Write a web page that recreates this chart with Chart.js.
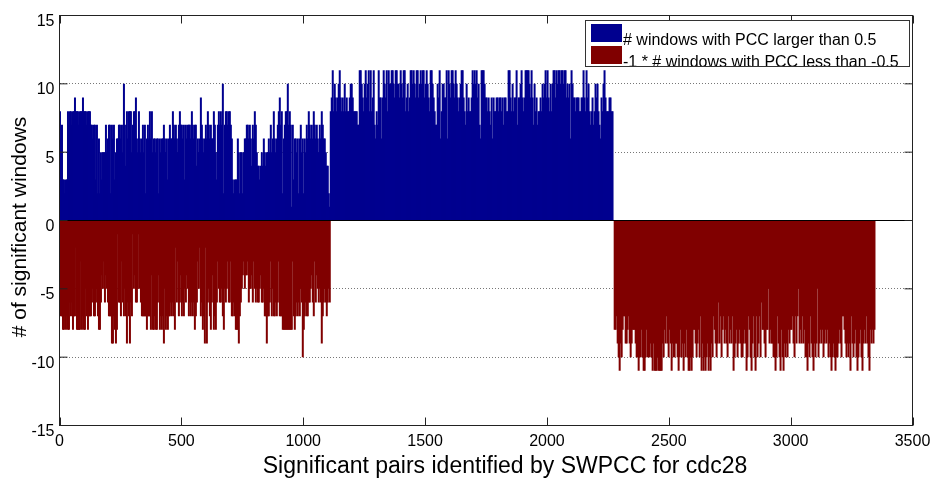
<!DOCTYPE html>
<html lang="en">
<head>
<meta charset="UTF-8" />
<title>Significant windows per pair - cdc28</title>
<script src="https://cdn.jsdelivr.net/npm/chart.js@4"></script>
<style>
  * { margin: 0; padding: 0; box-sizing: border-box; }
  body { background: #fff; width: 930px; height: 478px; overflow: hidden; }
</style>
</head>
<body>
<canvas id="chart" width="930" height="478"></canvas>
<script>
// one bar per ~4.1 consecutive pairs (one pixel column of the original figure)
const PAIRS_PER_BAR = 4.1;
const seg1Start = 2;     // pairs 1..1109
const seg2Start = 1113;  // pairs 1110..2272
const seg3Start = 2278;  // pairs 2273..3343

const xTicks = [0, 500, 1000, 1500, 2000, 2500, 3000, 3500];
const yTicks = [-15, -10, -5, 0, 5, 10, 15];
const xTitle = 'Significant pairs identified by SWPCC for cdc28';
const yTitle = '# of significant windows';

// # windows with PCC > 0.5, first block
const blue1 = [
  8,6,7,3,3,2,3,3,8,7, 8,8,7,8,8,9,8,8,8,7, 8,8,8,9,8,8,8,7,8,8,
  8,7,7,6,7,7,3,7,2,6, 2,5,3,5,5,5,7,5,6,7, 7,2,7,6,7,3,5,6,6,7,
  7,6,7,5,10,7,4,8,6,8, 8,8,5,7,8,8,9,6,5,8, 6,5,6,7,5,7,2,6,7,6,
  8,6,8,5,6,6,5,6,6,2, 6,5,6,6,7,6,5,6,3,6, 7,6,6,8,7,6,7,6,5,7,
  8,7,7,6,7,3,7,6,7,7, 7,6,8,7,6,7,7,
  4,6,5,6,9,7,6,5,6,7, 6,8,7,6,7,6,6,8,7,5, 3,7,8,7,8,7,10,2,7,8,
  8,7,8,8,7,6,3,2,3,3, 3,6,5,2,5,5,2,5,6,6, 7,7,6,7,6,4,7,6,8,7,
  5,4,4,3,4,5,4,6,5,4, 5,5,6,5,7,5,6,8,6,5, 6,7,8,9,7,8,2,6,7,8,
  8,10,7,8,7,1,7,3,6,6, 5,6,2,6,7,5,6,2,6,5, 7,6,8,7,6,7,6,8,7,6,
  7,6,5,7,6,8,7,6,6,5,4,4,2,1
];

// # windows with PCC > 0.5, second block
const blue2 = [
  8,9,11,8,10,9,8,9,10,11, 9,8,9,8,10,8,9,8,8,9, 10,10,9,8,8,8,8,7,7,11,
  11,10,9,8,10,11,9,10,11,8, 11,8,9,11,7,6,8,7,11,9, 9,6,9,11,10,9,11,8,11,10,
  10,11,11,10,9,11,11,10,10,9, 11,10,9,11,11,8,9,10,8,9, 11,11,10,11,10,9,11,11,9,10,
  11,10,11,11,9,10,11,10,9,8, 11,11,10,9,8,7,7,10,9,11, 6,8,10,10,9,9,11,6,11,10,
  9,11,11,10,9,11,10,9,8,9, 10,11,11,9,8,7,10,8,9,8,8,9,
  11,10,11,10,11,9,10,7,6,11, 11,11,10,9,9,8,9,8,7,9, 6,9,8,8,9,9,8,9,9,8,
  9,7,9,9,8,8,11,11,9,8, 10,8,9,9,11,7,9,9,10,11, 9,8,9,11,11,11,11,10,9,11,
  9,7,10,8,9,7,8,8,9,8, 10,9,10,11,9,11,9,8,10,8, 10,11,11,9,11,10,11,11,10,11,
  11,10,11,11,9,10,9,10,6,11, 10,9,9,8,9,9,9,8,8,9, 9,11,9,8,11,9,10,8,7,8,
  9,7,8,10,9,10,8,7,6,9, 8,10,11,9,8,8,8,9,9,8,8
];

// -1 * # windows with PCC < -0.5, first block
const red1 = [
  -6,-7,-7,-8,-8,-7,-8,-7,-8,-8, -6,-7,-6,-8,-7,-7,-2,-8,-8,-8, -8,-3,-8,-7,-8,-8,-5,-7,-8,-7,
  -7,-7,-6,-5,-7,-7,-6,-5,-7,-8, -8,-6,-4,-5,-3,-6,-4,-5,-6,-7, -7,-7,-9,-9,-7,-8,-9,-8,-1,-6,
  -6,-7,-3,-6,-7,-5,-7,-9,-6,-7, -9,-6,-7,-1,-5,-4,-6,-6,-5,-1, -5,-6,-7,-7,-7,-7,-7,-8,-7,-7,
  -7,-8,-4,-8,-8,-7,-8,-8,-6,-4, -8,-7,-8,-7,-9,-5,-8,-7,-8,-7, -7,-6,-7,-6,-7,-8,-2,-6,-3,-7,
  -6,-4,-7,-6,-7,-5,-6,-4,-5,-7, -6,-7,-6,-7,-6,-8,-7,
  -6,-3,-5,-2,-7,-6,-8,-7,-9,-2, -9,-6,-5,-7,-8,-6,-4,-8,-7,-8, -6,-3,-5,-6,-6,-5,-7,-8,-5,-6,
  -5,-3,-6,-6,-3,-7,-7,-6,-7,-8, -8,-8,-9,-7,-6,-5,-4,-3,-5,-4, -4,-3,-6,-5,-5,-4,-6,-3,-5,-6,
  -5,-6,-6,-5,-4,-6,-6,-5,-7,-7, -9,-7,-7,-6,-3,-7,-5,-7,-7,-6, -7,-6,-3,-7,-7,-7,-8,-8,-8,-8,
  -8,-8,-8,-8,-8,-8,-3,-7,-8,-7, -6,-7,-6,-7,-5,-6,-10,-8,-7,-6, -7,-7,-6,-6,-5,-4,-6,-7,-3,-6,
  -4,-5,-6,-5,-6,-9,-7,-6,-5,-6,-7,-6,-5,-6
];

// -1 * # windows with PCC < -0.5, second block
const red2 = [
  -8,-8,-7,-9,-10,-11,-9,-10,-8,-7, -7,-9,-9,-8,-7,-9,-10,-9,-8,-8, -8,-9,-10,-10,-11,-10,-10,-8,-10,-11,
  -11,-10,-8,-10,-10,-10,-9,-10,-11,-9, -11,-11,-11,-10,-11,-11,-11,-11,-9,-10, -8,-9,-7,-9,-10,-8,-9,-11,-9,-10,
  -10,-9,-9,-10,-11,-10,-8,-10,-9,-11, -9,-10,-8,-10,-11,-11,-10,-11,-10,-8, -8,-9,-10,-9,-8,-10,-7,-11,-9,-11,
  -10,-11,-10,-9,-11,-10,-11,-9,-10,-7, -8,-9,-10,-9,-6,-9,-7,-10,-8,-7, -9,-8,-9,-10,-7,-9,-8,-9,-7,-11,
  -10,-9,-8,-10,-9,-8,-9,-10,-10,-9,-8,-9,
  -11,-10,-7,-8,-10,-11,-9,-7,-10,-11, -7,-10,-9,-7,-10,-6,-8,-8,-9,-10, -8,-8,-5,-9,-8,-9,-9,-10,-10,-11,
  -10,-7,-9,-10,-11,-8,-10,-11,-9,-10, -9,-10,-8,-9,-8,-8,-7,-9,-10,-7, -9,-7,-5,-9,-8,-9,-7,-9,-8,-10,
  -10,-11,-9,-10,-7,-9,-10,-11,-9,-10, -9,-5,-10,-9,-8,-9,-8,-10,-9,-8, -9,-8,-10,-9,-10,-11,-10,-9,-10,-11,
  -10,-10,-9,-8,-9,-10,-7,-7,-8,-9, -10,-9,-10,-9,-11,-7,-9,-10,-9,-8, -10,-11,-10,-9,-8,-10,-11,-9,-8,-9,
  -7,-9,-10,-11,-8,-9,-8,-9,-8
];

function toPoints(values, start) {
  return values.map((v, i) => ({ x: start + i * PAIRS_PER_BAR, y: v }));
}

const FONT = 'Liberation Sans, Arial, Helvetica, sans-serif';

// MATLAB-like box: frame, inward ticks on all sides, zero baseline, titles, legend
const matlabBox = {
  id: 'matlabBox',
  afterDatasetsDraw(chart) {
    const { ctx, chartArea: a, scales: { x, y } } = chart;
    const line = (x1, y1, x2, y2) => {
      ctx.beginPath(); ctx.moveTo(x1, y1); ctx.lineTo(x2, y2); ctx.stroke();
    };
    ctx.save();
    ctx.lineWidth = 1;
    ctx.strokeStyle = '#000';
    const y0 = y.getPixelForValue(0);
    line(a.left, y0, a.right, y0);

    ctx.strokeStyle = '#222';
    ctx.strokeRect(a.left, a.top, a.right - a.left, a.bottom - a.top);
    const len = 8;
    x.ticks.forEach(t => {
      const px = Math.round(x.getPixelForValue(t.value)) + 0.5;
      line(px, a.bottom, px, a.bottom - len);
      line(px, a.top, px, a.top + len);
    });
    y.ticks.forEach(t => {
      const py = y.getPixelForValue(t.value);
      line(a.left, py, a.left + len, py);
      line(a.right, py, a.right - len, py);
    });
    ctx.restore();
  },
  afterDraw(chart) {
    const { ctx } = chart;
    const sets = chart.data.datasets;
    ctx.save();

    // axis titles
    ctx.fillStyle = '#000';
    ctx.textAlign = 'center';
    ctx.textBaseline = 'middle';
    ctx.font = '23px ' + FONT;
    ctx.fillText(xTitle, 505, 467);
    ctx.save();
    ctx.translate(20, 227);
    ctx.rotate(-Math.PI / 2);
    ctx.font = '21px ' + FONT;
    ctx.fillText(yTitle, 0, 0);
    ctx.restore();

    // legend
    const box = { x: 585.5, y: 20.5, w: 324, h: 46 };
    ctx.fillStyle = '#fff';
    ctx.fillRect(box.x, box.y, box.w, box.h);
    ctx.font = '16px ' + FONT;
    ctx.textBaseline = 'alphabetic';
    ctx.textAlign = 'left';
    sets.forEach((ds, i) => {
      ctx.fillStyle = ds.backgroundColor;
      ctx.fillRect(591, 24 + i * 22, 31, 18);
      ctx.fillStyle = '#000';
      ctx.fillText(ds.label, 623, 45 + i * 22);
    });
    ctx.strokeStyle = '#333';
    ctx.lineWidth = 1;
    ctx.strokeRect(box.x, box.y, box.w, box.h);
    ctx.restore();
  }
};

// bars are 2px wide at ~1px spacing so neighbours overlap and leave no seams
const barStyle = {
  borderWidth: 0,
  grouped: false,
  barThickness: 2,
  inflateAmount: 0
};

new Chart(document.getElementById('chart'), {
  type: 'bar',
  data: {
    datasets: [
      Object.assign({
        label: '# windows with PCC larger than 0.5',
        data: toPoints(blue1, seg1Start).concat(toPoints(blue2, seg2Start)),
        backgroundColor: '#00008F'
      }, barStyle),
      Object.assign({
        label: '-1 * # windows with PCC less than -0.5',
        data: toPoints(red1, seg1Start).concat(toPoints(red2, seg3Start)),
        backgroundColor: '#800000'
      }, barStyle)
    ]
  },
  options: {
    responsive: false,
    animation: false,
    devicePixelRatio: 1,
    layout: { padding: { top: 15.5, right: 17.5, left: 0, bottom: 0 } },
    plugins: {
      legend: { display: false },
      tooltip: { enabled: false }
    },
    scales: {
      x: {
        type: 'linear',
        offset: false,
        min: 0,
        max: 3500,
        afterBuildTicks: s => { s.ticks = xTicks.map(v => ({ value: v })); },
        afterFit: s => { s.height = 52.5; s.paddingLeft = 0; s.paddingRight = 0; },
        grid: { display: false, drawTicks: false, offset: false },
        border: { display: false },
        ticks: {
          color: '#000',
          padding: 6,
          maxRotation: 0,
          autoSkip: false,
          callback: v => String(v),
          font: { family: FONT, size: 16 }
        }
      },
      y: {
        min: -15,
        max: 15,
        afterBuildTicks: s => { s.ticks = yTicks.map(v => ({ value: v })); },
        afterFit: s => { s.width = 59.5; s.paddingTop = 0; s.paddingBottom = 0; },
        grid: { color: '#777', drawTicks: false },
        border: { display: false, dash: [1, 2] },
        ticks: {
          color: '#000',
          padding: 5,
          labelOffset: 6,
          callback: v => String(v),
          font: { family: FONT, size: 16 }
        }
      }
    }
  },
  plugins: [matlabBox]
});
</script>
</body>
</html>
